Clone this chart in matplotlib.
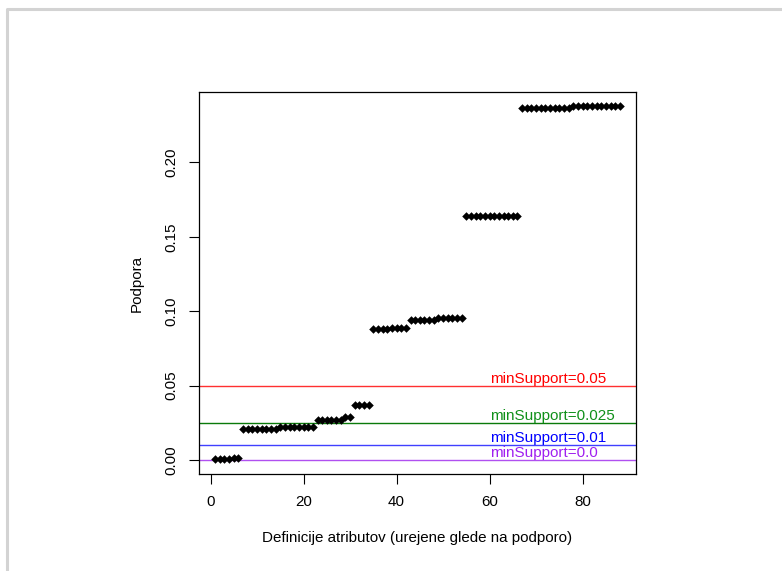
import numpy as np
import matplotlib
matplotlib.use('Agg')
import matplotlib.pyplot as plt
from matplotlib.lines import Line2D

plt.rcParams.update({'font.family': ['Liberation Sans', 'DejaVu Sans'], 'font.size': 10.9})

# support of attribute definitions, sorted ascending
support = (
    [0.0003, 0.0003, 0.0003, 0.0006, 0.0015, 0.0015]
    + [0.0210] * 8 + [0.0223] * 8
    + [0.0265] * 6 + [0.0285] * 2
    + [0.0368] * 4
    + [0.0878] * 4 + [0.0890] * 4
    + [0.0943] * 6 + [0.0957] * 6
    + [0.1640] * 12
    + [0.2368] * 11 + [0.2379] * 11
)
idx = np.arange(1, len(support) + 1)

thresholds = [0.05, 0.025, 0.01, 0.0]
th_labels = ['minSupport=0.05', 'minSupport=0.025', 'minSupport=0.01', 'minSupport=0.0']
line_colors = ['#ff3030', '#0a7a0a', '#4040ff', '#b050f0']
text_colors = ['#ff0000', '#10901a', '#0000ff', '#a020f0']

fig = plt.figure(figsize=(7.82, 5.71), dpi=100)
ax = fig.add_axes([199 / 782, 1 - 474 / 571, (636 - 199) / 782, (474 - 92) / 571])

ax.scatter(idx, support, marker='D', s=19, c='black', linewidths=0, zorder=3)

for t, lab, lc, tc in zip(thresholds, th_labels, line_colors, text_colors):
    ax.axhline(t, color=lc, lw=1.0, zorder=2)
    ax.text(60, t, lab, color=tc, ha='left', va='bottom', fontsize=11)

n = len(support)
rx = (n - 1) * 0.04
ax.set_xlim(1 - rx, n + rx)
ymax = max(support)
ax.set_ylim(-ymax * 0.04, ymax * 1.04)
ax.set_xticks([0, 20, 40, 60, 80])
ax.set_yticks([0.0, 0.05, 0.10, 0.15, 0.20])
ax.set_yticklabels(['0.00', '0.05', '0.10', '0.15', '0.20'], rotation=90, va='center')
ax.tick_params(direction='out', length=7, width=0.8, pad=8)
for s in ax.spines.values():
    s.set_linewidth(0.9)

ax.set_xlabel('Definicije atributov (urejene glede na podporo)', labelpad=16)
ax.set_ylabel('Podpora', labelpad=15)

# light grey frame (left and top edges visible)
fig.add_artist(Line2D([7 / 782, 7 / 782, 1], [0, 1 - 9 / 571, 1 - 9 / 571],
                      color='#d3d3d3', lw=2.2, transform=fig.transFigure))

fig.savefig('out.png', dpi=100)
